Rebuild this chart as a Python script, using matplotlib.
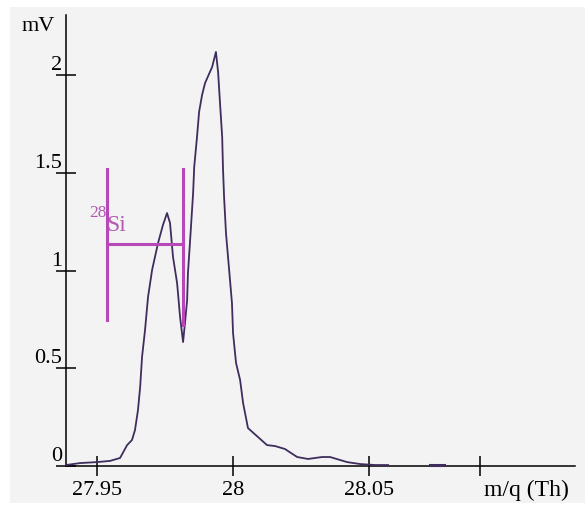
import matplotlib
matplotlib.use('Agg')
import matplotlib.pyplot as plt
from matplotlib.patches import Rectangle

# spectrum around m/q = 28
mass = [27.9385, 27.9437, 27.9499, 27.9547, 27.9584, 27.9610, 27.9628, 27.9639,
        27.9650, 27.9658, 27.9665, 27.9676, 27.9687, 27.9702, 27.9724, 27.9742,
        27.9757, 27.9768, 27.9779, 27.9794, 27.9805, 27.9816, 27.9823, 27.9831,
        27.9834, 27.9842, 27.9853, 27.9857, 27.9867, 27.9875, 27.9886, 27.9897,
        27.9923, 27.9937, 27.9945, 27.9952, 27.9960, 27.9963, 27.9967, 27.9974,
        27.9985, 27.9996, 28.0000, 28.0011, 28.0026, 28.0037, 28.0055, 28.0092,
        28.0125, 28.0155, 28.0191, 28.0236, 28.0276, 28.0328, 28.0357, 28.0420,
        28.0468, 28.0523, 28.0571]
signal = [0.005, 0.015, 0.020, 0.026, 0.041, 0.107, 0.133, 0.184,
          0.286, 0.404, 0.558, 0.696, 0.864, 1.003, 1.141, 1.233,
          1.294, 1.243, 1.069, 0.936, 0.762, 0.634, 0.731, 0.849,
          0.987, 1.156, 1.396, 1.529, 1.678, 1.811, 1.898, 1.959,
          2.041, 2.118, 2.015, 1.857, 1.683, 1.524, 1.376, 1.192,
          1.013, 0.834, 0.680, 0.527, 0.440, 0.322, 0.194, 0.148,
          0.107, 0.102, 0.087, 0.046, 0.036, 0.046, 0.046, 0.020,
          0.010, 0.005, 0.005]
tail_mass = [28.0725, 28.0778]
tail_signal = [0.004, 0.004]

# 28Si marker
si_left, si_right = 27.9536, 27.9815
si_top, si_bottom_l, si_bottom_r = 1.52, 0.745, 0.72
si_level = 1.135

xticks = [27.95, 28.0, 28.05, 28.091]
xtick_labels = ['27.95', '28', '28.05', '']
yticks = [0, 0.5, 1, 1.5, 2]
ytick_labels = ['0', '0.5', '1', '1.5', '2']

CURVE = '#3f2d5e'
MAG = '#b848b8'
SI_TXT = '#b25ab2'
SERIF = ['Liberation Serif', 'DejaVu Serif']

fig = plt.figure(figsize=(5.85, 5.08), dpi=100, facecolor='white')
# grey panel behind the plot
fig.patches.append(Rectangle((10 / 585, 5 / 508), 575 / 585, 496 / 508,
                             transform=fig.transFigure, facecolor='#f3f3f3',
                             edgecolor='none', zorder=-10))

ax = fig.add_axes([66 / 585, 42 / 508, 509 / 585, 451 / 508])
ax.set_facecolor('none')

ax.plot(mass, signal, color=CURVE, linewidth=1.3, zorder=3, clip_on=False)
ax.plot(tail_mass, tail_signal, color=CURVE, linewidth=2.2, zorder=3, clip_on=False)

# isotope marker
ax.plot([si_left, si_left], [si_bottom_l, si_top], color=MAG, linewidth=2.2, zorder=4)
ax.plot([si_right, si_right], [si_bottom_r, si_top], color=MAG, linewidth=2.2, zorder=4)
ax.plot([si_left, si_right], [si_level, si_level], color=MAG, linewidth=2.2, zorder=4)
ax.text(si_left - 0.0001, si_level + 0.12, '28', color=SI_TXT, fontsize=12.5,
        family=SERIF, ha='right', va='bottom', zorder=5)
ax.text(si_left - 0.0002, si_level + 0.04, 'Si', color=SI_TXT, fontsize=17,
        family=SERIF, ha='left', va='bottom', zorder=5)

ax.set_xlim(27.9385, 28.1259)
ax.set_ylim(0, 2.307)

for s in ['top', 'right']:
    ax.spines[s].set_visible(False)
for s in ['left', 'bottom']:
    ax.spines[s].set_linewidth(1.1)
    ax.spines[s].set_color('black')

ax.set_xticks(xticks)
ax.set_xticklabels(xtick_labels, family=SERIF, fontsize=16)
ax.set_yticks(yticks)
ax.set_yticklabels(ytick_labels, family=SERIF, fontsize=16)
ax.tick_params(axis='x', direction='inout', length=14, width=1.1, pad=4)
ax.tick_params(axis='y', direction='inout', length=14, width=1.1, pad=-4)
for lab in ax.get_yticklabels():
    lab.set_verticalalignment('bottom')

ax.text(28.0925, -0.07, 'm/q (Th)', family=SERIF, fontsize=17,
        ha='left', va='top', transform=ax.transData)
ax.text(-0.022, 2.25, 'mV', family=SERIF, fontsize=16, ha='right', va='center',
        transform=ax.get_yaxis_transform())

fig.savefig('out.png', dpi=100, facecolor='white')
